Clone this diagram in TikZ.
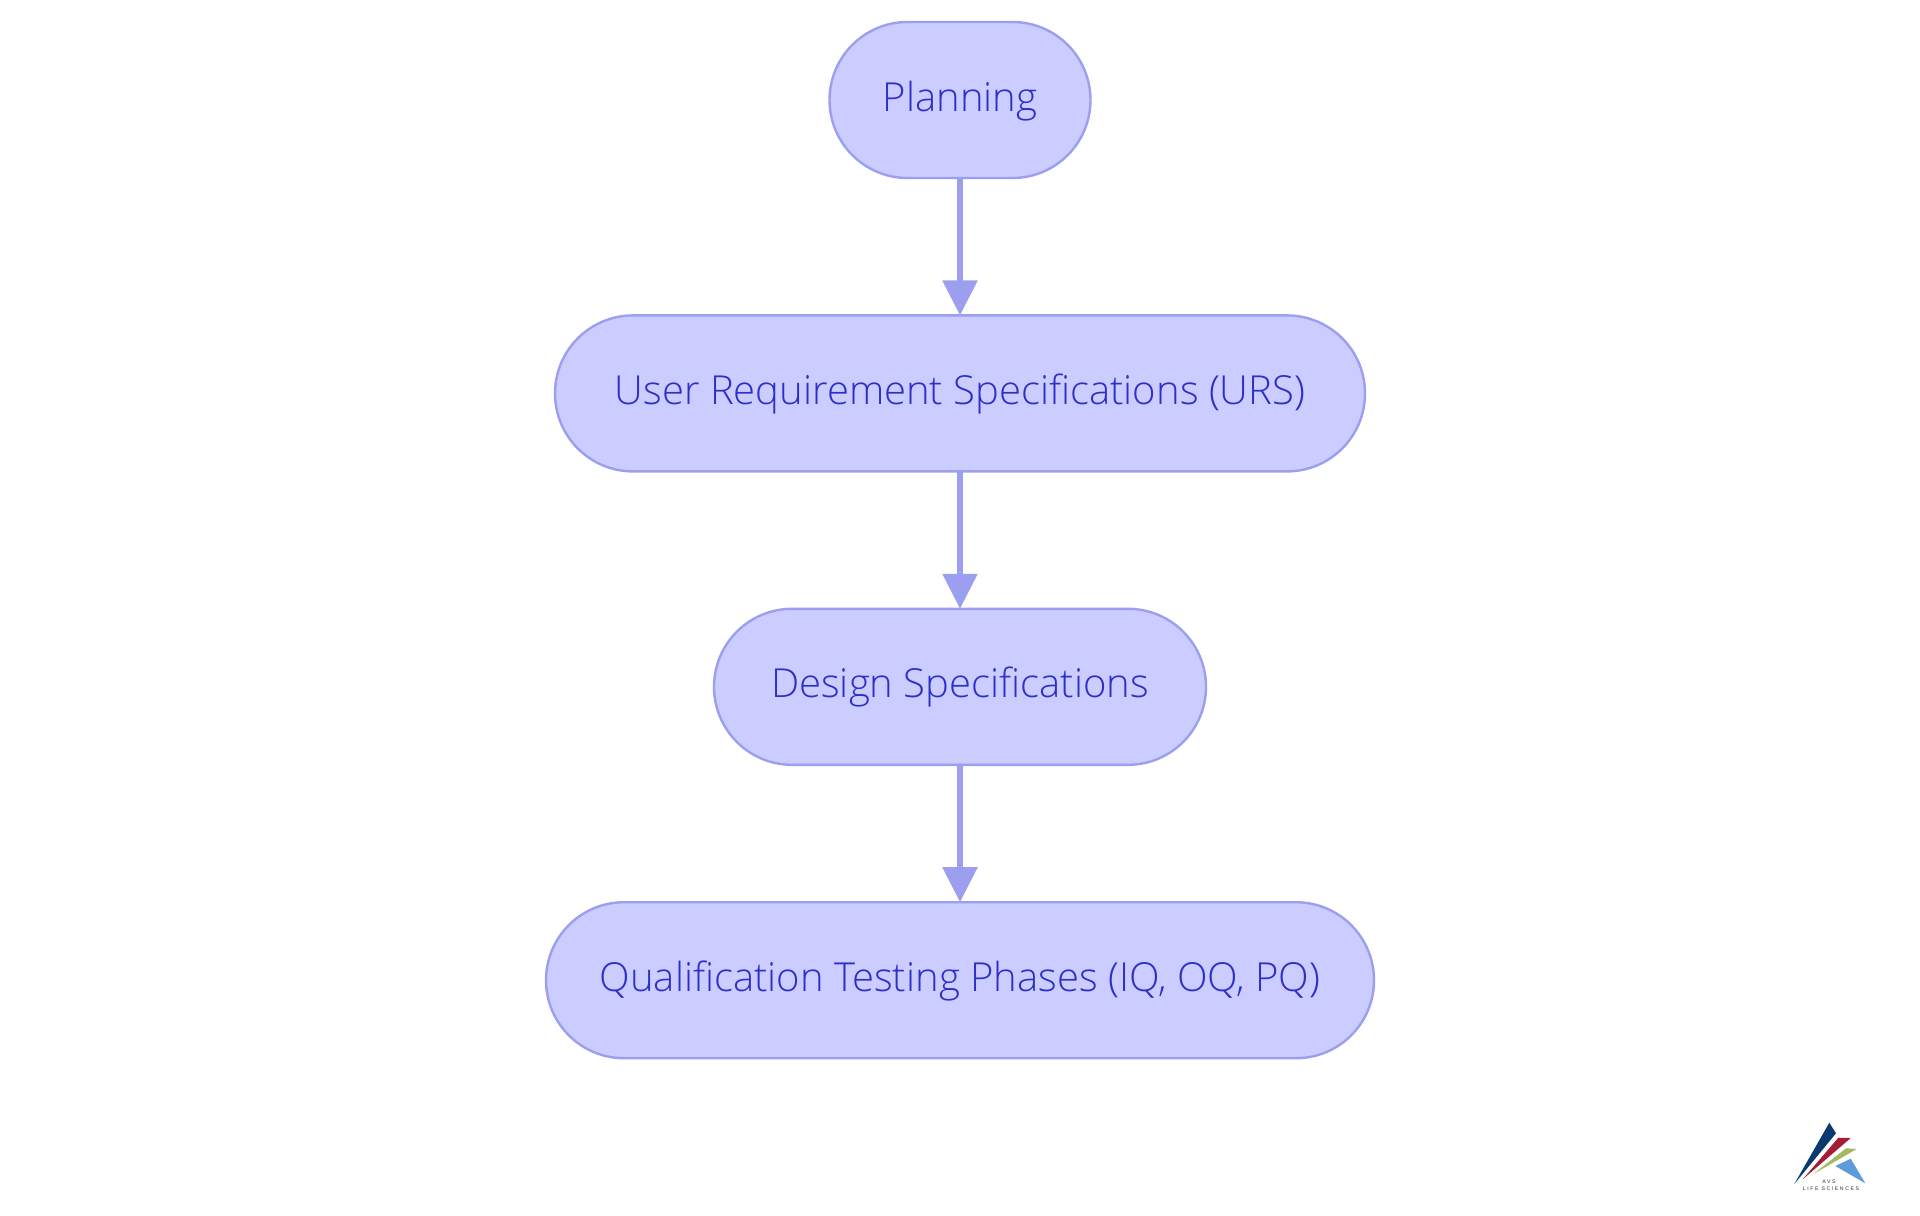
\documentclass[tikz,border=0pt]{standalone}
\usepackage{fontspec}
\setmainfont[Ligatures=NoCommon]{Open Sans Light}
\newfontfamily\logofont[LetterSpace=30]{Liberation Sans}
\usetikzlibrary{positioning, arrows.meta}
\definecolor{boxfill}{HTML}{CBCCFF}
\definecolor{boxline}{HTML}{9C9FF0}
\definecolor{boxtext}{HTML}{2C30C8}
\definecolor{logonavy}{HTML}{0B3A6E}
\definecolor{logored}{HTML}{A51C36}
\definecolor{logogreen}{HTML}{A3B95F}
\definecolor{logoblue}{HTML}{5F9BDB}

\begin{document}
\begin{tikzpicture}[
    x=0.5pt, y=-0.5pt,
    phase/.style={rectangle, draw=boxline, fill=boxfill, line width=1.2pt, rounded corners=39pt,
        minimum height=78pt, outer sep=0pt, text centered, anchor=north, text=boxtext,
        text height=15pt, text depth=4pt, font=\fontsize{20pt}{24pt}\selectfont},
    flow/.style={draw=boxline, line width=2.8pt, -{Triangle[length=17.5pt,width=17pt]}},
    logotext/.style={inner sep=0pt, text=black!80, font=\logofont\fontsize{2.6pt}{3pt}\selectfont},
    node distance=68.7pt
]
\useasboundingbox (0,0) rectangle (1920,1215);
\node (P01) [phase, minimum width=130.5pt] at (960,22) {Planning};
\node (P02) [phase, minimum width=405pt, below=of P01] {User Requirement Specifications (URS)};
\node (P03) [phase, minimum width=246pt, below=of P02] {Design Specifications};
\node (P04) [phase, minimum width=414pt, below=of P03] {Qualification Testing Phases (IQ, OQ, PQ)};

\draw [flow] (P01) -- (P02);
\draw [flow] (P02) -- (P03);
\draw [flow] (P03) -- (P04);

% logo
\fill [logonavy] (1794.3,1184) -- (1829.3,1122.7) -- (1836,1133.3) -- cycle;
\fill [logored] (1802.7,1179.3) -- (1838.3,1137.7) -- (1850.7,1138) -- cycle;
\fill [logogreen] (1813.3,1174) -- (1846,1148.3) -- (1856.7,1149) -- cycle;
\fill [logoblue] (1835.3,1166) -- (1850.7,1158.7) -- (1865.3,1183.3) -- cycle;
\node (L01) [logotext] at (1829,1182) {AVS};
\node (L02) [logotext] at (1831,1189) {LIFE SCIENCES};
\end{tikzpicture}
\end{document}
